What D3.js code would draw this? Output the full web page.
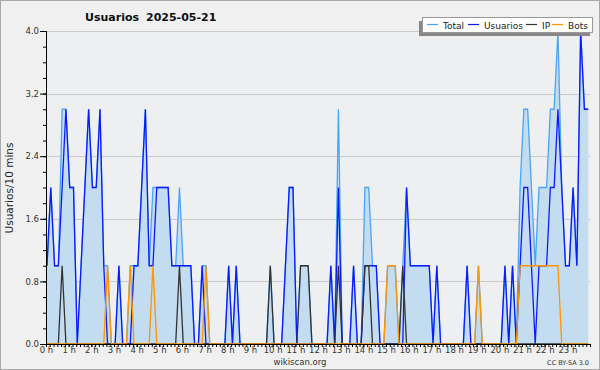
<!DOCTYPE html>
<html>
<head>
<meta charset="utf-8">
<script src="https://cdn.jsdelivr.net/npm/d3@7"></script>
<style>
  body { margin: 0; background: #f0f0f0; }
  svg { display: block; font-family: "DejaVu Sans", sans-serif; }
</style>
</head>
<body>
<svg id="vis" width="600" height="370"></svg>
<script>
/**
 * Data: one value every 10 minutes (144 per day)
 */
var TITLE = ["Usuarios", "2025-05-21"];
var Y_LABEL = "Usuarios/10 mins";
var SERIES = ["Total", "Usuarios", "IP", "Bots"];

var total = [
  1,2,1,1,3,3,2,2,0,1,  2,3,2,2,3,1,1,0,0,1,  0,0,1,1,1,2,3,1,2,2,
  2,2,2,1,1,2,1,1,1,0,  0,1,1,0,0,0,0,0,1,0,  1,0,0,0,0,0,0,0,0,1,
  0,0,0,1,2,2,0,1,1,1,  0,0,0,0,0,1,0,3,0,0,  0,1,0,0,2,2,1,1,0,0,
  1,1,1,0,1,2,1,1,1,1,  1,1,0,1,0,0,0,0,0,0,  0,1,0,0,1,0,0,0,0,0,
  0,1,0,1,0,2,3,3,2,1,  2,2,2,3,3,4,2,1,1,2,  1,4,3,3
];
var usuarios = [
  1,2,1,1,2,3,2,2,0,1,  2,3,2,2,3,1,0,0,0,1,  0,0,0,1,1,2,3,1,1,2,
  2,2,2,1,1,1,1,1,1,0,  0,1,0,0,0,0,0,0,1,0,  1,0,0,0,0,0,0,0,0,0,
  0,0,0,1,2,2,0,0,0,0,  0,0,0,0,0,1,0,2,0,0,  0,1,0,0,1,1,1,1,0,0,
  0,0,0,0,0,2,1,1,1,1,  1,1,0,1,0,0,0,0,0,0,  0,1,0,0,0,0,0,0,0,0,
  0,1,0,1,0,1,2,2,1,0,  1,1,1,2,2,3,2,1,1,2,  1,4,3,3
];
var ip = [
  0,0,0,0,1,0,0,0,0,0,  0,0,0,0,0,0,0,0,0,0,  0,0,0,0,0,0,0,0,0,0,
  0,0,0,0,0,1,0,0,0,0,  0,0,0,0,0,0,0,0,0,0,  0,0,0,0,0,0,0,0,0,1,
  0,0,0,0,0,0,0,1,1,1,  0,0,0,0,0,0,0,1,0,0,  0,0,0,0,1,1,0,0,0,0,
  0,0,0,0,1,0,0,0,0,0,  0,0,0,0,0,0,0,0,0,0,  0,0,0,0,0,0,0,0,0,0,
  0,0,0,0,0,0,0,0,0,0,  0,0,0,0,0,0,0,0,0,0,  0,0,0,0
];
var bots = [
  0,0,0,0,0,0,0,0,0,0,  0,0,0,0,0,0,1,0,0,0,  0,0,1,0,0,0,0,0,1,0,
  0,0,0,0,0,0,0,0,0,0,  0,0,1,0,0,0,0,0,0,0,  0,0,0,0,0,0,0,0,0,0,
  0,0,0,0,0,0,0,0,0,0,  0,0,0,0,0,0,0,0,0,0,  0,0,0,0,0,0,0,0,0,0,
  1,1,1,0,0,0,0,0,0,0,  0,0,0,0,0,0,0,0,0,0,  0,0,0,0,1,0,0,0,0,0,
  0,0,0,0,0,1,1,1,1,1,  1,1,1,1,1,1,0,0,0,0,  0,0,0,0
];
var y_ticks = [0, 0.8, 1.6, 2.4, 3.2, 4.0];
var hour_ticks = d3.range(0, 24);   // labels "0 h" .. "23 h"

var COLORS = { Total: "#4aa5f5", Usuarios: "#0a1cff", IP: "#333333", Bots: "#ff9500" };

var _vis = d3.select("#vis");
var _left = 46, _right = 590, _top = 31, _bottom = 344;

// outer frame
_vis.append("rect").attr("x", 0.5).attr("y", 0.5).attr("width", 599).attr("height", 369)
    .attr("fill", "#f0f0f0").attr("stroke", "#a8a8a8");
_vis.append("rect").attr("x", _left).attr("y", _top).attr("width", _right - _left).attr("height", _bottom - _top)
    .attr("fill", "#eeeff1");

var x = d3.scaleLinear().domain([0, 1440]).range([_left, _right]);
// the samples sit a little right of the hour ticks in the original
var xData = d3.scaleLinear().domain([0, 1440]).range([_left + 1, _right + 2]);
var y = d3.scaleLinear().domain([0, 4]).range([_bottom, _top]);

// grid
_vis.append("g").selectAll("line").data(y_ticks.slice(1)).enter().append("line")
    .attr("x1", _left).attr("x2", _right)
    .attr("y1", d => Math.round(y(d)) + 0.5).attr("y2", d => Math.round(y(d)) + 0.5)
    .attr("stroke", "#cbcbcb").attr("stroke-width", 1);

function pts(arr) {
    return arr.map((v, i) => ({ t: i * 10, v: v }));
}

var area = d3.area().x(d => xData(d.t)).y0(y(0)).y1(d => y(d.v));
var line = d3.line().x(d => xData(d.t)).y(d => y(d.v));

_vis.append("path").datum(pts(total)).attr("d", area).attr("fill", "#c4dcf0");

var _data = { Total: total, Usuarios: usuarios, IP: ip, Bots: bots };
SERIES.forEach(function (name) {
    _vis.append("path").datum(pts(_data[name])).attr("d", line)
        .attr("fill", "none").attr("stroke", COLORS[name]).attr("stroke-width", 1.3);
});

// y axis
var yAxis = d3.axisLeft(y).tickValues(y_ticks).tickFormat(d3.format(".1f")).tickSize(6).tickPadding(1);
var gy = _vis.append("g").attr("transform", "translate(" + _left + ",0)").call(yAxis);
gy.select(".domain").attr("d", "M0.5," + _top + "V" + _bottom);
gy.selectAll(".tick line").attr("stroke", "#000");
gy.selectAll("text").attr("font-size", 8.5).attr("fill", "#333").attr("font-family", "DejaVu Sans");
var gyMinor = d3.axisLeft(y).tickValues(d3.range(0, 4.01, 0.2)).tickSize(3).tickFormat("");
_vis.append("g").attr("transform", "translate(" + _left + ",0)").call(gyMinor).select(".domain").remove();

// x axis
var gxMinor = d3.axisBottom(x).tickValues(d3.range(0, 1441, 10)).tickSize(3).tickFormat("");
_vis.append("g").attr("transform", "translate(0," + _bottom + ")").call(gxMinor).select(".domain").remove();
var xAxis = d3.axisBottom(x).tickValues(hour_ticks.map(h => h * 60)).tickSize(3).tickPadding(0)
    .tickFormat(d => (d / 60) + " h");
var gx = _vis.append("g").attr("transform", "translate(0," + _bottom + ")").call(xAxis);
gx.select(".domain").attr("d", "M" + _left + ",0.5H" + _right);
gx.selectAll("text").attr("font-size", 8.5).attr("fill", "#333").attr("font-family", "DejaVu Sans");

// title and labels
var tt = _vis.append("g").attr("font-size", 11).attr("font-weight", "bold").attr("fill", "#111");
tt.append("text").attr("x", 85).attr("y", 21).text(TITLE[0]);
tt.append("text").attr("x", 146).attr("y", 21).text(TITLE[1]);
_vis.append("text").attr("transform", "translate(13,188) rotate(-90)").attr("text-anchor", "middle")
    .attr("font-size", 10.5).attr("fill", "#222").text(Y_LABEL);
_vis.append("text").attr("x", 300).attr("y", 365).attr("text-anchor", "middle")
    .attr("font-size", 8.5).attr("fill", "#333").text("wikiscan.org");
_vis.append("text").attr("x", 589).attr("y", 365).attr("text-anchor", "end")
    .attr("font-size", 6.5).attr("fill", "#333").text("CC BY-SA 3.0");

// legend
var lg = _vis.append("g");
lg.append("rect").attr("x", 419).attr("y", 21).attr("width", 171).attr("height", 15).attr("fill", "#888");
lg.append("rect").attr("x", 422.5).attr("y", 17.5).attr("width", 170).attr("height", 15)
    .attr("fill", "#fff").attr("stroke", "#999");
var legendX = [427, 468, 526, 552];
SERIES.forEach(function (name, i) {
    lg.append("line").attr("x1", legendX[i]).attr("x2", legendX[i] + 11).attr("y1", 24.5).attr("y2", 24.5)
        .attr("stroke", COLORS[name]).attr("stroke-width", 1.2);
    lg.append("text").attr("x", legendX[i] + 16).attr("y", 28.5).attr("font-size", 9)
        .attr("fill", "#222").text(name);
});
</script>
</body>
</html>
